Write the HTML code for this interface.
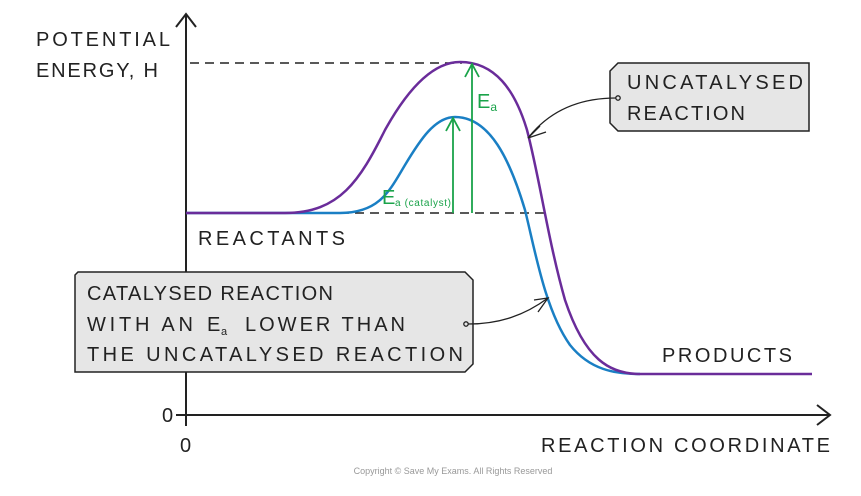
<!DOCTYPE html>
<html><head><style>
body{margin:0;background:#fff;}
svg{display:block;font-family:"Liberation Sans",sans-serif;}
</style></head><body>
<svg width="861" height="496" viewBox="0 0 861 496" xmlns="http://www.w3.org/2000/svg">
<g stroke="#222" stroke-width="2" fill="none">
<line x1="186" y1="15" x2="186" y2="426"/>
<polyline points="176,27 186,14 196,27"/>
<line x1="176" y1="415" x2="830" y2="415"/>
<polyline points="817,405 830,415 817,425"/>
</g>
<g stroke="#222" stroke-width="1.5" stroke-dasharray="9,6" fill="none">
<line x1="190" y1="63" x2="462" y2="63"/>
<line x1="340" y1="213" x2="546" y2="213"/>
</g>
<path d="M186,213 H340 C380,213 390,190 405,165 C420,140 435,117 455,117 C490,117 510,160 525,210 C535,250 545,310 570,345 C590,370 615,374 640,374" stroke="#1a7fc4" stroke-width="2.5" fill="none"/>
<path d="M186,213 H285 C340,213 360,180 385,130 C410,85 435,62 460,62 C495,62 515,90 527,130 C540,180 548,240 565,300 C585,360 610,374 640,374 H812" stroke="#6a2c9a" stroke-width="2.5" fill="none"/>
<g stroke="#1aa34a" stroke-width="1.8" fill="none">
<line x1="453" y1="213" x2="453" y2="118"/>
<polyline points="446,131 453,118 460,131"/>
<line x1="472" y1="213" x2="472" y2="64"/>
<polyline points="465,77 472,64 479,77"/>
</g>
<text x="477" y="108" font-size="20" fill="#1aa34a">E<tspan font-size="12" dy="3">a</tspan></text>
<text x="382" y="204" font-size="20" fill="#1aa34a">E</text>
<text x="395" y="206" font-size="10" fill="#1aa34a" textLength="56" lengthAdjust="spacing">a (catalyst)</text>
<g font-size="20" fill="#222">
<text x="36" y="46" textLength="134" lengthAdjust="spacing">POTENTIAL</text>
<text x="36" y="77" textLength="122" lengthAdjust="spacing">ENERGY, H</text>
<text x="198" y="245" textLength="147" lengthAdjust="spacing">REACTANTS</text>
<text x="662" y="362" textLength="130" lengthAdjust="spacing">PRODUCTS</text>
<text x="541" y="452" textLength="289" lengthAdjust="spacing">REACTION  COORDINATE</text>
<text x="162" y="422">0</text>
<text x="180" y="452">0</text>
</g>
<path d="M78,272 H465 L473,280 V364 L465,372 H75 V275 Z" fill="#e6e6e6" stroke="#222" stroke-width="1.5"/>
<g font-size="20" fill="#222">
<text x="87" y="300" textLength="246" lengthAdjust="spacing">CATALYSED REACTION</text>
<text x="87" y="331" textLength="106" lengthAdjust="spacing">WITH AN</text>
<text x="207" y="331">E</text>
<text x="221" y="335" font-size="11">a</text>
<text x="245" y="331" textLength="160" lengthAdjust="spacing">LOWER THAN</text>
<text x="87" y="361" textLength="376" lengthAdjust="spacing">THE UNCATALYSED REACTION</text>
</g>
<path d="M618,63 H809 V131 H618 L610,123 V71 Z" fill="#e6e6e6" stroke="#222" stroke-width="1.5"/>
<g font-size="20" fill="#222">
<text x="627" y="89" textLength="176" lengthAdjust="spacing">UNCATALYSED</text>
<text x="627" y="120" textLength="118" lengthAdjust="spacing">REACTION</text>
</g>
<g stroke="#222" stroke-width="1.3" fill="none">
<circle cx="618" cy="98" r="2.2"/>
<path d="M616,98 C580,98 550,110 528,138"/>
<polyline points="540,126 528,138 546,132"/>
<circle cx="466" cy="324" r="2.2"/>
<path d="M468,324 C500,324 525,315 548,298"/>
<polyline points="534,300 548,298 538,312"/>
</g>
<text x="453" y="474" font-size="9" fill="#999" text-anchor="middle">Copyright © Save My Exams. All Rights Reserved</text>
</svg>
</body></html>
